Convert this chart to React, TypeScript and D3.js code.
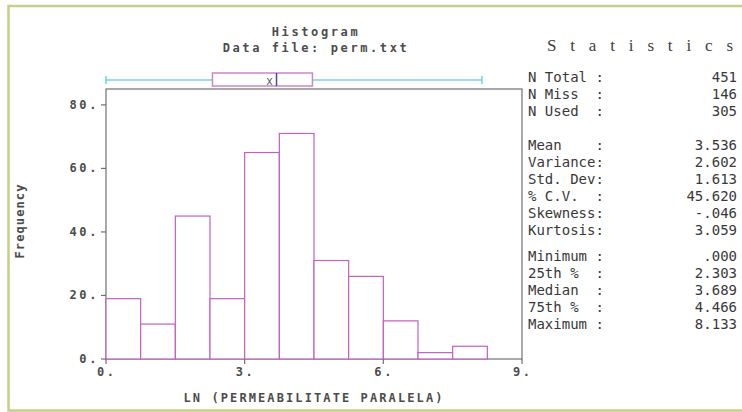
import React from 'react';
import * as d3 from 'd3';

// histogram bins (ln permeability) and their frequencies
const binEdges = [0, 0.75, 1.5, 2.25, 3, 3.75, 4.5, 5.25, 6, 6.75, 7.5, 8.25];
const counts = [19, 11, 45, 19, 65, 71, 31, 26, 12, 2, 4];
const xTicks = [0, 3, 6, 9];
const yTicks = [0, 20, 40, 60, 80];

// summary statistics panel, three groups
const countLabels = ['N Total :', 'N Miss  :', 'N Used  :'];
const countValues = ['451', '146', '305'];
const momentLabels = ['Mean    :', 'Variance:', 'Std. Dev:', '% C.V.  :', 'Skewness:', 'Kurtosis:'];
const momentValues = ['3.536', '2.602', '1.613', '45.620', '-.046', '3.059'];
const quantileLabels = ['Minimum :', '25th %  :', 'Median  :', '75th %  :', 'Maximum :'];
const quantileValues = ['.000', '2.303', '3.689', '4.466', '8.133'];

// box plot numbers (min, q1, median, q3, max) and the mean
const boxSummary = [0, 2.303, 3.689, 4.466, 8.133];
const meanValue = 3.536;

const W = 742;
const H = 412;
const left = 106, right = 522, top = 89, bottom = 359;

const pixFont = '"DejaVu Sans Mono", monospace';
const axisGray = '#707070';
const textGray = '#4c4c4c';
const barColor = '#c060c0';

export default function App() {
  const x = d3.scaleLinear().domain([0, 9]).range([left, right]);
  const y = d3.scaleLinear().domain([0, 85]).range([bottom, top]);

  const statGroups = [
    { labels: countLabels, values: countValues, y0: 82 },
    { labels: momentLabels, values: momentValues, y0: 150 },
    { labels: quantileLabels, values: quantileValues, y0: 261 },
  ];
  const rowH = 16.9;

  const [mn, q1, med, q3, mx] = boxSummary;
  const boxY = 80;

  return (
    <div style={{ position: 'fixed', left: 0, top: 0 }}>
      <svg width={W} height={H} style={{ display: 'block', background: '#fff' }}>
        {/* outer frame */}
        <rect x={8.5} y={6} width={800} height={404.5} fill="none" stroke="#c6cf84" strokeWidth={2.5} />

        {/* titles */}
        <g fontFamily={pixFont} fontWeight="bold" fontSize={12} fill={textGray} letterSpacing={2.6}>
          <text x={316} y={36} textAnchor="middle">Histogram</text>
          <text x={316} y={52} textAnchor="middle">Data file: perm.txt</text>
        </g>

        {/* box plot */}
        <line x1={x(mn)} x2={x(mx)} y1={boxY} y2={boxY} stroke="#70d4e0" strokeWidth={1.5} />
        <line x1={x(mn)} x2={x(mn)} y1={boxY - 4} y2={boxY + 4} stroke="#70d4e0" strokeWidth={1.5} />
        <line x1={x(mx)} x2={x(mx)} y1={boxY - 4} y2={boxY + 4} stroke="#70d4e0" strokeWidth={1.5} />
        <rect x={x(q1)} y={73} width={x(q3) - x(q1)} height={13} fill="#fff" stroke="#c888c8" strokeWidth={1.5} />
        <line x1={x(med)} x2={x(med)} y1={73} y2={86} stroke="#4a4aa0" strokeWidth={1.5} />
        <text x={x(meanValue)} y={84.5} textAnchor="middle" fontFamily="Liberation Sans, sans-serif" fontSize={12} fill="#606060">x</text>

        {/* plot frame */}
        <rect x={left} y={top} width={right - left} height={bottom - top} fill="none" stroke={axisGray} strokeWidth={1.2} />

        {/* bars */}
        {counts.map((c, i) => (
          <rect
            key={i}
            x={x(binEdges[i])}
            y={y(c)}
            width={x(binEdges[i + 1]) - x(binEdges[i])}
            height={y(0) - y(c)}
            fill="#fff"
            stroke={barColor}
            strokeWidth={1.2}
          />
        ))}

        {/* axis ticks */}
        <g fontFamily={pixFont} fontWeight="bold" fontSize={12} fill={textGray} letterSpacing={2.6}>
          {yTicks.map((t) => (
            <g key={t}>
              <line x1={left - 5} x2={left} y1={y(t)} y2={y(t)} stroke={axisGray} strokeWidth={1.2} />
              <text x={99} y={y(t) + 4} textAnchor="end">{`${t}.`}</text>
            </g>
          ))}
          {xTicks.map((t) => (
            <g key={t}>
              <line x1={x(t)} x2={x(t)} y1={bottom} y2={bottom + 5} stroke={axisGray} strokeWidth={1.2} />
              <text x={x(t) - 9} y={376}>{`${t}.`}</text>
            </g>
          ))}
        </g>

        {/* axis titles */}
        <text x={314} y={402} textAnchor="middle" fontFamily={pixFont} fontWeight="bold" fontSize={12} fill={textGray} letterSpacing={2.1}>
          LN (PERMEABILITATE PARALELA)
        </text>
        <text
          transform="translate(24,221) rotate(-90)"
          textAnchor="middle"
          fontFamily={pixFont}
          fontWeight="bold"
          fontSize={12}
          fill={textGray}
          letterSpacing={1.1}
        >
          Frequency
        </text>

        {/* statistics panel */}
        <text x={547} y={51} textLength={186} lengthAdjust="spacing" fontFamily='"Liberation Serif", serif' fontSize={17} fill="#404040">
          Statistics
        </text>
        <g fontFamily={pixFont} fontSize={14} fill="#383838">
          {statGroups.map((g, gi) =>
            g.labels.map((lab, i) => (
              <g key={`${gi}-${i}`}>
                <text x={528} y={g.y0 + i * rowH} style={{ whiteSpace: 'pre' }}>{lab}</text>
                <text x={737} y={g.y0 + i * rowH} textAnchor="end">{g.values[i]}</text>
              </g>
            ))
          )}
        </g>
      </svg>
    </div>
  );
}
